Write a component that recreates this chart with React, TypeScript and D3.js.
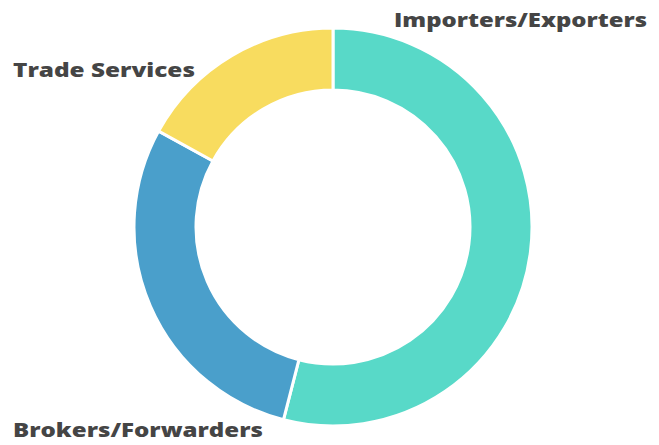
import React from "react";
import * as d3 from "d3";

const categories = ["Importers/Exporters", "Brokers/Forwarders", "Trade Services"];
const values = [54, 29, 17];
const colors = ["#58D9C8", "#4A9FCB", "#F8DC5F"];

const labelPos: Record<string, { x: number; y: number; len: number }> = {
  "Importers/Exporters": { x: 394, y: 27, len: 253 },
  "Brokers/Forwarders": { x: 13, y: 437, len: 250 },
  "Trade Services": { x: 13, y: 77, len: 182 },
};

export default function App() {
  const W = 659, H = 445;
  const cx = 333, cy = 227, R = 199, r = 137;
  const pie = d3.pie<number>().sort(null).value((d) => d)(values);
  const arc = d3.arc<d3.PieArcDatum<number>>().innerRadius(r).outerRadius(R);
  return (
    <svg width={W} height={H} style={{ position: "fixed", left: 0, top: 0, background: "#fff" }}>
      <g transform={`translate(${cx},${cy})`}>
        {pie.map((p, i) => (
          <path key={i} d={arc(p) || ""} fill={colors[i]} stroke="#fff" strokeWidth={3} />
        ))}
      </g>
      {categories.map((c) => {
        const lp = labelPos[c];
        return (
          <text key={c} x={lp.x} y={lp.y} textLength={lp.len} lengthAdjust="spacingAndGlyphs"
            fontFamily="'Open Sans', sans-serif" fontWeight={800} fontSize={20} fill="#454545">
            {c}
          </text>
        );
      })}
    </svg>
  );
}
